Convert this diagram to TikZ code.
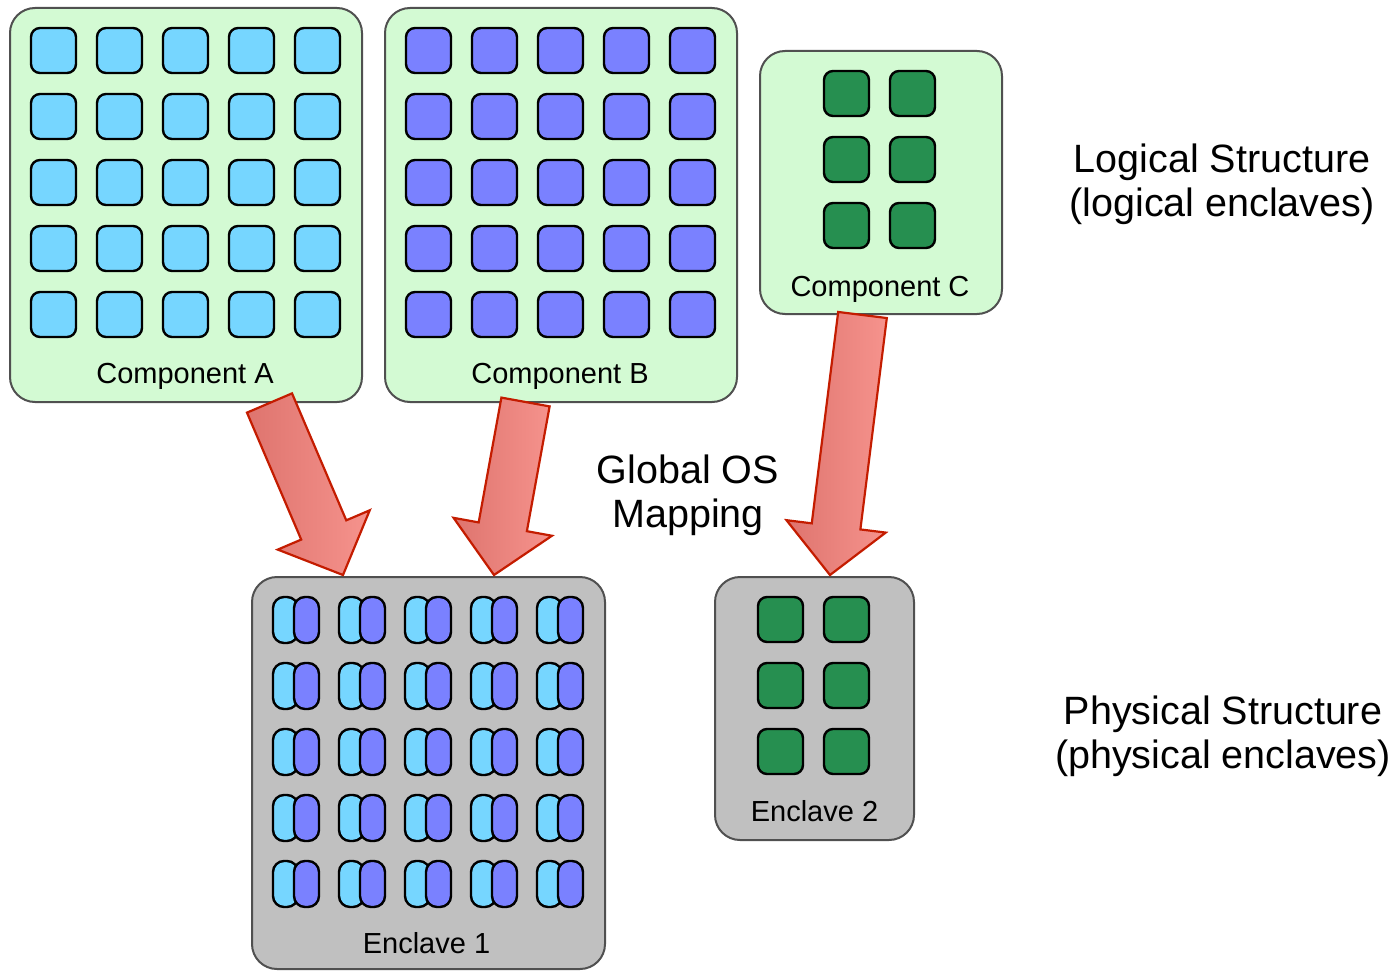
\documentclass[tikz,border=0pt]{standalone}
\usepackage{fontspec}
\setmainfont{Liberation Sans}
\usetikzlibrary{calc}

\definecolor{boxgreen}{HTML}{D3FAD3}
\definecolor{boxgray}{HTML}{C0C0C0}
\definecolor{boxedge}{HTML}{505050}
\definecolor{cellblue}{HTML}{76D6FF}
\definecolor{cellpurple}{HTML}{7A81FF}
\definecolor{cellgreen}{HTML}{268F50}
\definecolor{arrowedge}{HTML}{C41C00}
\definecolor{arrowdark}{HTML}{DE746E}
\definecolor{arrowlight}{HTML}{F6938D}

\tikzset{
  container/.style={draw=boxedge, line width=2pt, rounded corners=25pt, inner sep=0pt},
  logical/.style={container, fill=boxgreen},
  physical/.style={container, fill=boxgray},
  cell/.style={draw=black, line width=2.4pt, rounded corners=9pt},
  halfcell/.style={draw=black, line width=2.4pt, rounded corners=11pt},
  smalllabel/.style={font=\fontsize{29pt}{33pt}\selectfont, inner sep=0pt, anchor=base},
  biglabel/.style={font=\fontsize{39.5pt}{43.5pt}\selectfont, inner sep=0pt, align=center, anchor=base},
  maparrowstyle/.style={draw=arrowedge, line width=2.2pt, line join=miter,
    left color=arrowdark, right color=arrowlight},
}

% broad block arrow from a tail point #1 to a tip point #2
\newcommand\maparrow[2]{%
  \coordinate (#1-#2-h) at ($(#2)!49pt!(#1)$);
  \draw[maparrowstyle]
    ($(#1)!24.5pt!90:(#2)$) -- ($(#1-#2-h)!24.5pt!90:(#2)$) --
    ($(#1-#2-h)!50pt!90:(#2)$) -- (#2) --
    ($(#1-#2-h)!50pt!-90:(#2)$) -- ($(#1-#2-h)!24.5pt!-90:(#2)$) --
    ($(#1)!24.5pt!-90:(#2)$) -- cycle;
}

\begin{document}
\begin{tikzpicture}[x=1pt, y=-1pt]
\useasboundingbox (0,0) rectangle (1394,971);

% logical enclaves
\node[logical, minimum width=352pt, minimum height=394pt] (compA) at (186,205) {};
\node[logical, minimum width=352pt, minimum height=394pt] (compB) at (561,205) {};
\node[logical, minimum width=242pt, minimum height=263pt] (compC) at (881,182.5) {};

% physical enclaves
\node[physical, minimum width=353pt, minimum height=392pt] (encA) at (428.5,773) {};
\node[physical, minimum width=199pt, minimum height=263pt] (encB) at (814.5,708.5) {};

% cells of component A and B
\foreach \i in {0,...,4}
  \foreach \j in {0,...,4} {
    \draw[cell, fill=cellblue] ($(compA.north west)+(22+66*\i,21+66*\j)$) rectangle ++(45,45);
    \draw[cell, fill=cellpurple] ($(compB.north west)+(22+66*\i,21+66*\j)$) rectangle ++(45,45);
  }

% cells of component C and enclave 2
\foreach \i in {0,1}
  \foreach \j in {0,1,2} {
    \draw[cell, fill=cellgreen] ($(compC.north west)+(65+66*\i,21+66*\j)$) rectangle ++(45,45);
    \draw[cell, fill=cellgreen] ($(encB.north west)+(44+66*\i,21+66*\j)$) rectangle ++(45,45);
  }

% paired cells of enclave 1
\foreach \i in {0,...,4}
  \foreach \j in {0,...,4} {
    \draw[halfcell, fill=cellblue] ($(encA.north west)+(22+66*\i,21+66*\j)$) rectangle ++(25,46);
    \draw[halfcell, fill=cellpurple] ($(encA.north west)+(43+66*\i,21+66*\j)$) rectangle ++(25,46);
  }

% labels inside the boxes
\node[smalllabel] (labA) at ($(compA.south)+(-1,-20)$) {Component A};
\node[smalllabel] (labB) at ($(compB.south)+(-1,-20)$) {Component B};
\node[smalllabel] (labC) at ($(compC.south)+(-1,-19)$) {Component C};
\node[smalllabel] (labE1) at ($(encA.south)+(-2,-17)$) {Enclave 1};
\node[smalllabel] (labE2) at ($(encB.south)+(0,-20)$) {Enclave 2};

% side labels (base anchor sits on the last line)
\node[biglabel] (logtext) at (1222,216) {Logical Structure\\(logical enclaves)};
\node[biglabel] (phytext) at (1223,768) {Physical Structure\\(physical enclaves)};
\node[biglabel] (maptext) at (688,527) {Global OS\\Mapping};

% mapping arrows
\coordinate (a1s) at ($(compA.south)+(83.5,0)$);
\coordinate (a1t) at ($(encA.north)+(-85.5,-1)$);
\coordinate (a2s) at ($(compB.south)+(-35.5,-1)$);
\coordinate (a2t) at ($(encA.north)+(65.5,-1)$);
\coordinate (a3s) at ($(compC.south)+(-18.5,0)$);
\coordinate (a3t) at ($(encB.north)+(15.5,-1)$);
\maparrow{a1s}{a1t}
\maparrow{a2s}{a2t}
\maparrow{a3s}{a3t}
\end{tikzpicture}
\end{document}
